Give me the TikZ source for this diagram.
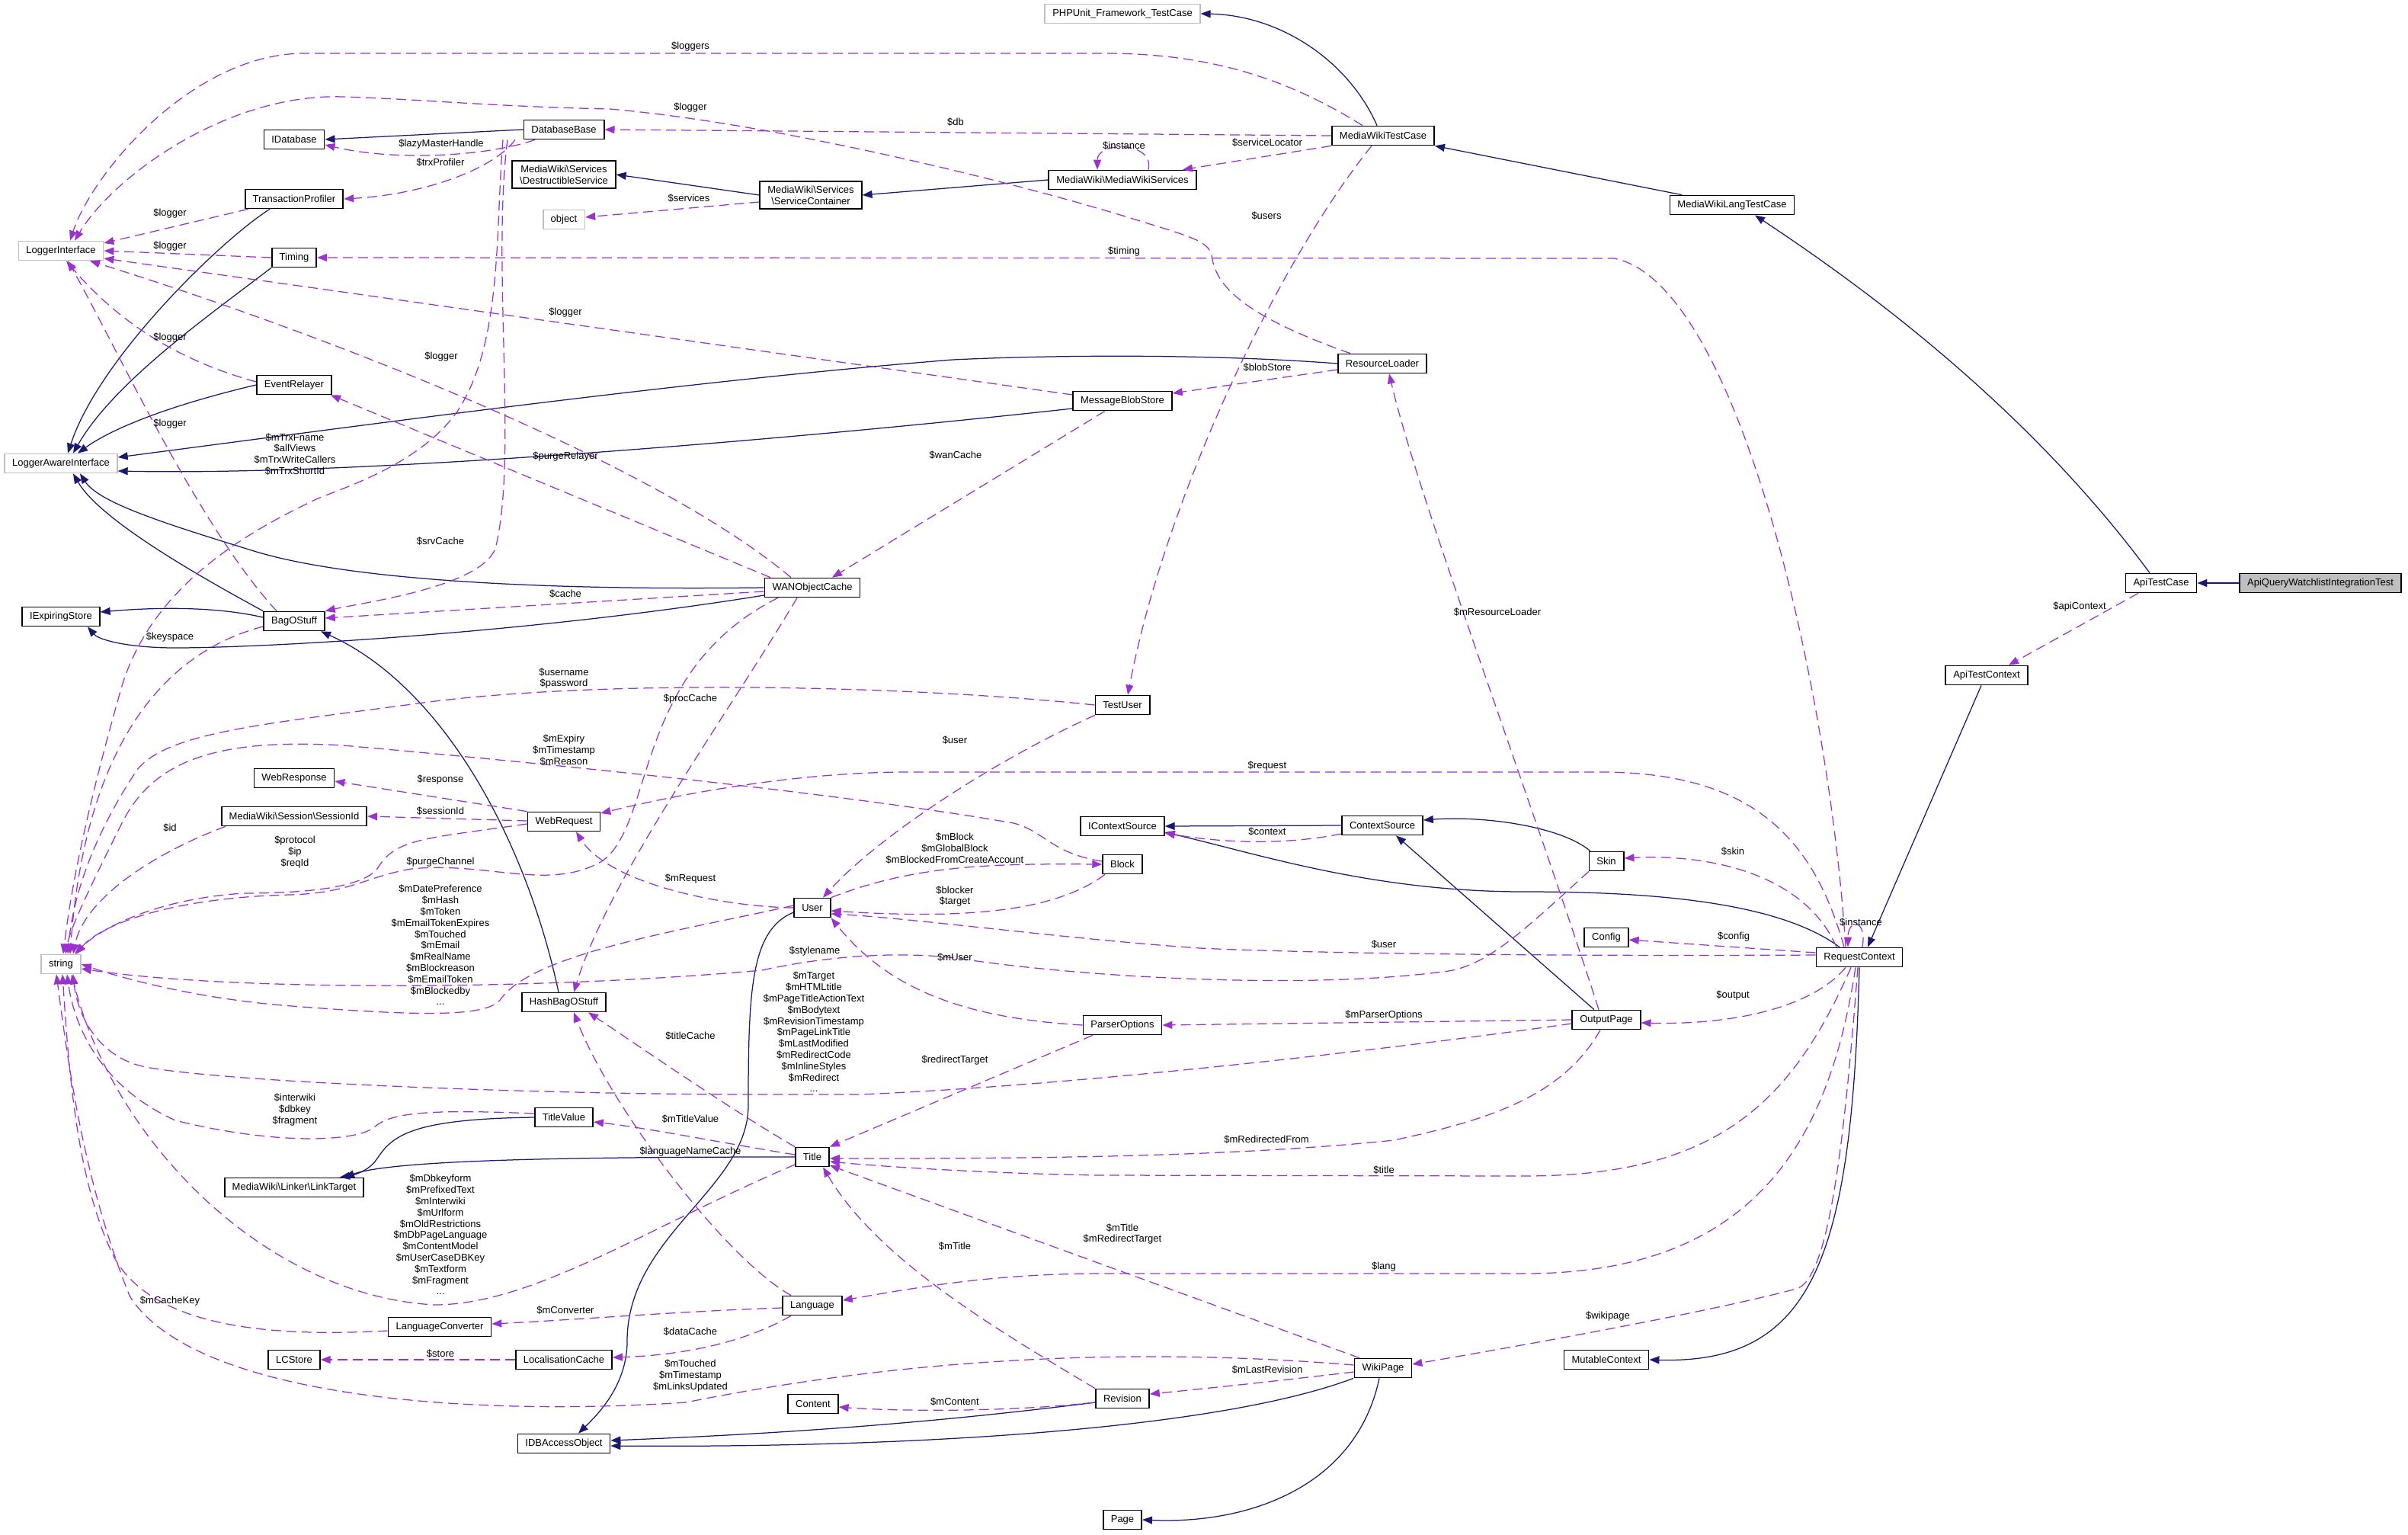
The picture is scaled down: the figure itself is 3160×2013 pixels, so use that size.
\documentclass[tikz,border=0pt]{standalone}
\usepackage{fontspec}
\setmainfont{Liberation Sans}
\usetikzlibrary{arrows.meta}
\definecolor{navy}{HTML}{191970}
\definecolor{orch}{HTML}{9A32CD}
\definecolor{gbord}{HTML}{BFBFBF}
\definecolor{gfill}{HTML}{BFBFBF}
\begin{document}
\begin{tikzpicture}[x=1pt,y=-1pt,font=\fontsize{13}{14.8}\selectfont,
  cls/.style={draw=black,line width=1.7pt,fill=white,minimum height=25pt,inner xsep=10pt,inner ysep=0pt,align=center},
  cls2/.style={cls,inner ysep=6pt},
  gcls/.style={cls,draw=gbord},
  lbl/.style={inner sep=0pt,align=center},
  inh/.style={draw=navy,line width=1.25pt,-{Triangle[length=13pt,width=10pt]},fill=none},
  use/.style={draw=orch,line width=1.25pt,dash pattern=on 13pt off 7pt,-{Triangle[length=13pt,width=10pt]},fill=none}]
\useasboundingbox (0,0) rectangle (3160,2013);
% nodes
\node[cls,fill=gfill] (aq) at (3045,765) {ApiQueryWatchlistIntegrationTest};
\node[cls] (atc) at (2836,765) {ApiTestCase};
\node[cls] (mwltc) at (2273,269) {MediaWikiLangTestCase};
\node[cls] (mwtc) at (1815,178) {MediaWikiTestCase};
\node[gcls] (phpu) at (1473,18) {PHPUnit\_Framework\_TestCase};
\node[gcls] (li) at (80,329) {LoggerInterface};
\node[cls] (dbb) at (740,170) {DatabaseBase};
\node[cls] (idb) at (386,183) {IDatabase};
\node[cls] (mws) at (1473,236) {MediaWiki\textbackslash MediaWikiServices};
\node[cls2] (sc) at (1064,256) {MediaWiki\textbackslash Services\\\textbackslash ServiceContainer};
\node[cls2] (ds) at (740,229) {MediaWiki\textbackslash Services\\\textbackslash DestructibleService};
\node[gcls] (obj) at (740,288) {object};
\node[cls] (tp) at (386,261) {TransactionProfiler};
\node[cls] (tim) at (386,338) {Timing};
\node[cls] (er) at (386,505) {EventRelayer};
\node[gcls] (lai) at (80,608) {LoggerAwareInterface};
\node[cls] (rl) at (1814,477) {ResourceLoader};
\node[cls] (mbs) at (1473,526) {MessageBlobStore};
\node[cls] (wan) at (1066,771) {WANObjectCache};
\node[cls] (ies) at (80,809) {IExpiringStore};
\node[cls] (bag) at (386,815) {BagOStuff};
\node[cls] (tu) at (1473,925) {TestUser};
\node[cls] (atx) at (2607,886) {ApiTestContext};
\node[cls] (wresp) at (386,1021) {WebResponse};
\node[cls] (sid) at (386,1071) {MediaWiki\textbackslash Session\textbackslash SessionId};
\node[cls] (wreq) at (740,1078) {WebRequest};
\node[cls] (ics) at (1473,1084) {IContextSource};
\node[cls] (cs) at (1814,1083) {ContextSource};
\node[cls] (skin) at (2108,1130) {Skin};
\node[cls] (blk) at (1473,1134) {Block};
\node[cls] (usr) at (1066,1191) {User};
\node[cls] (cfg) at (2108,1230) {Config};
\node[cls] (rc) at (2440,1256) {RequestContext};
\node[gcls] (str) at (80,1265) {string};
\node[cls] (hbag) at (740,1315) {HashBagOStuff};
\node[cls] (op) at (2108,1338) {OutputPage};
\node[cls] (po) at (1473,1345) {ParserOptions};
\node[cls] (tv) at (740,1466) {TitleValue};
\node[cls] (ttl) at (1066,1518) {Title};
\node[cls] (lt) at (386,1558) {MediaWiki\textbackslash Linker\textbackslash LinkTarget};
\node[cls] (lang) at (1066,1713) {Language};
\node[cls] (lconv) at (577,1741) {LanguageConverter};
\node[cls] (lcs) at (386,1784) {LCStore};
\node[cls] (lcache) at (740,1784) {LocalisationCache};
\node[cls] (mc) at (2108,1784) {MutableContext};
\node[cls] (wp) at (1815,1795) {WikiPage};
\node[cls] (rev) at (1473,1835) {Revision};
\node[cls] (cont) at (1067,1842) {Content};
\node[cls] (idbao) at (740,1894) {IDBAccessObject};
\node[cls] (page) at (1473,1994) {Page};
% inheritance
\draw[inh] (aq) -- (atc);
\draw[inh] ([xshift=-15pt]atc.north) .. controls (2650,520) and (2420,360) .. ([xshift=30pt]mwltc.south);
\draw[inh] ([xshift=-66pt]mwltc.north) -- (mwtc.south east);
\draw[inh] ([xshift=-8pt]mwtc.north) .. controls (1770,80) and (1680,20) .. (phpu.east);
\draw[inh] (dbb.west) -- (idb.east);
\draw[inh] (mws.west) -- (sc.east);
\draw[inh] (sc.west) -- (ds.east);
\draw[inh] ([xshift=-32pt]tp.south) .. controls (290,315) and (130,470) .. ([xshift=9pt]lai.north);
\draw[inh] (tim.south west) .. controls (280,410) and (150,500) .. ([xshift=16pt]lai.north);
\draw[inh] (er.west) .. controls (230,530) and (150,560) .. ([xshift=22pt]lai.north);
\draw[inh] (rl.west) .. controls (1600,465) and (1400,465) .. (1250,472) .. controls (900,500) and (500,555) .. ([yshift=8pt]lai.east);
\draw[inh] ([yshift=-10pt]mbs.west) .. controls (1100,570) and (500,625) .. ([yshift=-10pt]lai.east);
\draw[inh] (wan.west) .. controls (700,775) and (450,760) .. (330,722) .. controls (220,688) and (130,660) .. ([xshift=25pt]lai.south);
\draw[inh] ([yshift=-10pt]wan.west) .. controls (700,830) and (350,850) .. (230,850) .. controls (170,850) and (130,840) .. ([xshift=35pt]ies.south);
\draw[inh] ([yshift=5pt]bag.west) .. controls (280,795) and (200,797) .. ([yshift=6pt]ies.east);
\draw[inh] (bag.north west) .. controls (250,750) and (130,680) .. ([xshift=16pt]lai.south);
\draw[inh] ([xshift=-7pt]hbag.north) .. controls (690,1100) and (580,900) .. ([xshift=35pt]bag.south);
\draw[inh] ([yshift=-6pt]usr.west) .. controls (985,1220) and (982,1300) .. (982,1450) .. controls (982,1560) and (823,1620) .. (823,1760) .. controls (823,1820) and (780,1860) .. ([xshift=19pt]idbao.north);
\draw[inh] (tv.west) .. controls (540,1468) and (515,1490) .. (495,1520) .. controls (487,1533) and (470,1541) .. ([xshift=60pt]lt.north);
\draw[inh] (ttl.west) .. controls (800,1518) and (520,1520) .. ([xshift=66pt]lt.north);
\draw[inh] ([yshift=-5pt]rev.west) .. controls (1200,1870) and (1000,1882) .. ([yshift=4pt]idbao.east);
\draw[inh] ([xshift=-39pt]wp.south) .. controls (1600,1875) and (1200,1900) .. ([yshift=-3pt]idbao.east);
\draw[inh] ([xshift=-5pt]wp.south) .. controls (1780,1950) and (1640,2000) .. (page.east);
\draw[inh] (rc.south) .. controls (2430,1650) and (2380,1790) .. (mc.east);
\draw[inh] ([xshift=-26pt]rc.north) .. controls (2330,1180) and (2150,1170) .. (2000,1170) .. controls (1800,1170) and (1650,1120) .. ([yshift=-8pt]ics.east);
\draw[inh] ([xshift=-7pt]atx.south) -- ([xshift=11pt]rc.north);
\draw[inh] ([xshift=-21pt]skin.north) .. controls (2050,1085) and (1950,1070) .. ([yshift=7pt]cs.east);
\draw[inh] ([xshift=-16pt]op.north) -- ([xshift=18pt]cs.south);
\draw[inh] (cs.west) -- (ics.east);
% usage
\draw[use] ([xshift=-30pt]atc.south) -- ([xshift=29pt]atx.north);
\draw[use] ([xshift=-27pt]mwtc.north) .. controls (1700,110) and (1600,70) .. (1450,70) -- (400,70) .. controls (250,70) and (120,230) .. ([xshift=12pt]li.north);
\draw[use] (mwtc.west) -- (dbb.east);
\draw[use] (mwtc.south west) -- ([xshift=79pt]mws.north);
\draw[use] ([xshift=34pt]mws.north) .. controls (1515,185) and (1440,185) .. ([xshift=-33pt]mws.north);
\draw[use] ([xshift=-15pt]mwtc.south) .. controls (1680,340) and (1530,650) .. ([xshift=7pt]tu.north);
\draw[use] ([yshift=-9pt]sc.west) -- ([yshift=3pt]obj.east);
\draw[use] ([xshift=-38pt]dbb.south) .. controls (640,205) and (520,212) .. ([yshift=-7pt]idb.east);
\draw[use] ([xshift=-64pt]dbb.south) .. controls (650,220) and (560,255) .. (tp.east);
\draw[use] ([xshift=-42pt]rl.north) .. controls (1620,410) and (1595,370) .. (1590,335) .. controls (1585,315) and (1560,310) .. (1480,285) .. controls (1300,230) and (1000,160) .. (800,143) .. controls (650,140) and (550,130) .. (450,127) .. controls (300,122) and (150,230) .. ([xshift=18pt]li.north);
\draw[use] ([xshift=-80pt]dbb.south) .. controls (650,300) and (660,450) .. (600,540) .. controls (550,610) and (450,640) .. (415,655) .. controls (320,700) and (200,770) .. (160,900) .. controls (120,1040) and (95,1150) .. ([xshift=3pt]str.north);
\draw[use] ([xshift=-74pt]dbb.south) .. controls (645,350) and (680,600) .. (650,720) .. controls (630,770) and (480,790) .. (bag.north east);
\draw[use] ([xshift=-60pt]tp.south) -- ([yshift=10pt]li.east);
\draw[use] (tim.west) -- (li.east);
\draw[use] ([yshift=4pt]er.west) .. controls (260,480) and (170,440) .. ([xshift=7pt]li.south);
\draw[use] ([xshift=-23pt]bag.north) .. controls (260,690) and (150,450) .. ([xshift=9pt]li.south);
\draw[use] ([yshift=8pt]mbs.west) -- ([yshift=-10pt]li.east);
\draw[use] ([xshift=-28pt]wan.north) .. controls (850,600) and (400,430) .. ([xshift=38pt]li.south);
\draw[use] ([xshift=-55pt]wan.north) -- ([xshift=48pt]er.south);
\draw[use] ([xshift=-23pt]mbs.south) -- ([xshift=26pt]wan.north);
\draw[use] ([yshift=-8pt]rl.west) -- ([yshift=10pt]mbs.east);
\draw[use] ([xshift=-18pt]rc.north) .. controls (2400,900) and (2280,370) .. (2118,339) -- (tim.east);
\draw[use] ([yshift=-5pt]wan.west) -- ([yshift=4pt]bag.east);
\draw[use] ([xshift=-20pt]wan.south) .. controls (960,930) and (800,1150) .. ([xshift=13pt]hbag.north);
\draw[use] ([xshift=-45pt]wan.south) .. controls (830,880) and (860,1080) .. (790,1130) .. controls (720,1170) and (640,1130) .. (540,1140) .. controls (480,1150) and (460,1172) .. (380,1174) .. controls (220,1178) and (130,1215) .. ([xshift=20pt]str.north);
\draw[use] (tu.west) .. controls (1200,900) and (800,890) .. (555,922) .. controls (350,950) and (220,960) .. (180,1010) .. controls (120,1100) and (95,1180) .. ([xshift=9pt]str.north);
\draw[use] ([xshift=-36pt]tu.south) .. controls (1300,1000) and (1150,1100) .. ([xshift=14pt]usr.north);
\draw[use] ([xshift=-20pt]rc.north) .. controls (2380,1100) and (2300,1013) .. (2100,1013) -- (1191,1013) .. controls (1050,1013) and (900,1040) .. ([yshift=11pt]wreq.east);
\draw[use] ([yshift=4pt]blk.west) .. controls (1380,1120) and (1370,1090) .. (1330,1080) .. controls (1100,1040) and (700,1000) .. (450,978) .. controls (280,968) and (200,1000) .. (160,1080) .. controls (110,1180) and (92,1220) .. ([xshift=6pt]str.north);
\draw[use] (usr.north east) .. controls (1200,1135) and (1300,1133) .. (blk.west);
\draw[use] ([xshift=-23pt]blk.south) .. controls (1380,1200) and (1250,1205) .. ([yshift=-4pt]usr.east);
\draw[use] (wreq.north west) -- ([yshift=-4pt]wresp.east);
\draw[use] ([yshift=1pt]wreq.west) -- (sid.east);
\draw[use] ([xshift=-90pt]sid.south) .. controls (200,1120) and (110,1180) .. ([xshift=16pt]str.north);
\draw[use] ([yshift=-3pt]wreq.west) .. controls (560,1100) and (520,1100) .. (497,1137) .. controls (480,1165) and (400,1172) .. (319,1172) .. controls (200,1180) and (130,1220) .. ([xshift=18pt]str.north);
\draw[use] ([yshift=3pt]usr.west) .. controls (900,1220) and (700,1250) .. (657,1311) .. controls (640,1335) and (550,1333) .. (383,1320) .. controls (250,1310) and (150,1280) .. (str.east);
\draw[use] (usr.west) .. controls (950,1190) and (800,1160) .. ([xshift=16pt]wreq.south);
\draw[use] ([yshift=3pt]rc.west) .. controls (2000,1255) and (1700,1250) .. (1574,1244) .. controls (1400,1232) and (1200,1205) .. ([yshift=-8pt]usr.east);
\draw[use] ([xshift=-23pt]skin.south) .. controls (2000,1220) and (1950,1270) .. (1893,1275) .. controls (1700,1300) and (1400,1280) .. (1255,1257) .. controls (1150,1245) and (1050,1262) .. (1000,1273) .. controls (700,1300) and (300,1300) .. ([yshift=-6pt]str.east);
\draw[use] (po.west) .. controls (1250,1335) and (1160,1290) .. (usr.south east);
\draw[use] ([yshift=-5pt]op.west) .. controls (1800,1380) and (1400,1425) .. (1128,1436) -- (1000,1436) .. controls (700,1436) and (300,1420) .. (191,1400) .. controls (120,1385) and (100,1320) .. ([xshift=16pt]str.south);
\draw[use] (op.west) -- (po.east);
\draw[use] ([xshift=-8pt]op.south) .. controls (2050,1440) and (1950,1470) .. (1829,1496) .. controls (1600,1520) and (1300,1520) .. ([yshift=-2pt]ttl.east);
\draw[use] ([xshift=-11pt]rc.south) .. controls (2350,1450) and (2250,1543) .. (2000,1543) -- (1446,1542) .. controls (1300,1540) and (1150,1530) .. ([yshift=-6pt]ttl.east);
\draw[use] ([xshift=-18pt]rc.south) .. controls (2380,1320) and (2280,1345) .. ([yshift=-4pt]op.east);
\draw[use] ([yshift=6pt]rc.west) -- ([yshift=-3pt]cfg.east);
\draw[use] ([xshift=-30pt]rc.north) .. controls (2370,1150) and (2250,1120) .. ([yshift=4pt]skin.east);
\draw[use] ([xshift=4pt]rc.north) .. controls (2450,1205) and (2425,1205) .. ([xshift=-15pt]rc.north);
\draw[use] ([xshift=-10pt]op.north) .. controls (2010,1050) and (1860,650) .. ([xshift=9pt]rl.south);
\draw[use] ([xshift=-39pt]po.south) -- (ttl.north east);
\draw[use] ([xshift=-31pt]wp.north) -- ([yshift=-11pt]ttl.east);
\draw[use] ([xshift=-36pt]rev.north) .. controls (1300,1740) and (1150,1650) .. ([xshift=14pt]ttl.south);
\draw[use] ([xshift=-5pt]rc.south) .. controls (2400,1500) and (2300,1671) .. (2000,1671) -- (1446,1671) .. controls (1300,1671) and (1200,1690) .. ([yshift=7pt]lang.east);
\draw[use] ([xshift=-2pt]rc.south) .. controls (2420,1500) and (2400,1680) .. (2357,1691) .. controls (2250,1720) and (2000,1765) .. ([yshift=5pt]wp.east);
\draw[use] ([yshift=-3pt]lang.west) .. controls (900,1720) and (750,1732) .. ([yshift=4pt]lconv.east);
\draw[use] ([xshift=-28pt]lang.south) .. controls (980,1760) and (900,1778) .. ([yshift=3pt]lcache.east);
\draw[use] (lcache.west) -- (lcs.east);
\draw[use] ([xshift=-28pt]lang.north) .. controls (950,1650) and (800,1450) .. ([xshift=13pt]hbag.south);
\draw[use] ([xshift=-23pt]ttl.north) .. controls (950,1450) and (850,1380) .. ([xshift=32pt]hbag.south);
\draw[use] ([yshift=3pt]ttl.west) .. controls (950,1500) and (850,1480) .. ([yshift=-6pt]tv.east);
\draw[use] ([yshift=-10pt]ttl.west) .. controls (850,1610) and (700,1712) .. (570,1712) .. controls (350,1700) and (150,1500) .. ([xshift=14pt]str.south);
\draw[use] ([yshift=5pt]tv.west) .. controls (560,1455) and (510,1460) .. (490,1480) .. controls (460,1500) and (350,1500) .. (230,1470) .. controls (120,1420) and (95,1330) .. ([xshift=8pt]str.south);
\draw[use] ([yshift=-5pt]lconv.west) .. controls (350,1755) and (200,1740) .. (150,1650) .. controls (100,1550) and (90,1400) .. ([xshift=2pt]str.south);
\draw[use] ([yshift=4pt]wp.west) .. controls (1400,1760) and (1100,1800) .. (900,1840) .. controls (600,1860) and (250,1830) .. (170,1700) .. controls (110,1550) and (90,1400) .. ([xshift=-6pt]str.south);
\draw[use] ([yshift=-5pt]rev.west) .. controls (1300,1855) and (1150,1850) .. ([yshift=-4pt]cont.east);
\draw[use] ([yshift=-5pt]wp.west) .. controls (1650,1815) and (1550,1825) .. ([yshift=6pt]rev.east);
\draw[use] ([yshift=-7pt]bag.west) .. controls (200,860) and (110,1000) .. ([xshift=12pt]str.north);
\draw[use] ([yshift=-11pt]cs.west) .. controls (1680,1110) and (1600,1105) .. ([yshift=-9pt]ics.east);
% labels
\node[lbl] (l1) at (2729,796) {\$apiContext};
\node[lbl] (l2) at (906,61) {\$loggers};
\node[lbl] (l3) at (1254,160) {\$db};
\node[lbl] (l4) at (1663,187) {\$serviceLocator};
\node[lbl] (l5) at (1475,191) {\$instance};
\node[lbl] (l6) at (1662,283) {\$users};
\node[lbl] (l7) at (904,260) {\$services};
\node[lbl] (l8) at (579,189) {\$lazyMasterHandle};
\node[lbl] (l9) at (578,213) {\$trxProfiler};
\node[lbl] (l10) at (906,141) {\$logger};
\node[lbl] (l11) at (223,280) {\$logger};
\node[lbl] (l12) at (223,323) {\$logger};
\node[lbl] (l13) at (223,443) {\$logger};
\node[lbl] (l14) at (223,556) {\$logger};
\node[lbl] (l15) at (742,410) {\$logger};
\node[lbl] (l16) at (579,468) {\$logger};
\node[lbl] (l17) at (742,599) {\$purgeRelayer};
\node[lbl] (l18) at (387,596) {\$mTrxFname\\\$allViews\\\$mTrxWriteCallers\\\$mTrxShortId};
\node[lbl] (l19) at (1254,597) {\$wanCache};
\node[lbl] (l20) at (1663,482) {\$blobStore};
\node[lbl] (l21) at (1475,330) {\$timing};
\node[lbl] (l22) at (578,710) {\$srvCache};
\node[lbl] (l23) at (742,779) {\$cache};
\node[lbl] (l24) at (223,836) {\$keyspace};
\node[lbl] (l25) at (906,917) {\$procCache};
\node[lbl] (l26) at (740,890) {\$username\\\$password};
\node[lbl] (l27) at (740,984) {\$mExpiry\\\$mTimestamp\\\$mReason};
\node[lbl] (l28) at (578,1023) {\$response};
\node[lbl] (l29) at (578,1064) {\$sessionId};
\node[lbl] (l30) at (223,1086) {\$id};
\node[lbl] (l31) at (387,1118) {\$protocol\\\$ip\\\$reqId};
\node[lbl] (l32) at (578,1131) {\$purgeChannel};
\node[lbl] (l33) at (578,1240) {\$mDatePreference\\\$mHash\\\$mToken\\\$mEmailTokenExpires\\\$mTouched\\\$mEmail\\\$mRealName\\\$mBlockreason\\\$mEmailToken\\\$mBlockedby\\...};
\node[lbl] (l34) at (906,1153) {\$mRequest};
\node[lbl] (l35) at (1253,971) {\$user};
\node[lbl] (l36) at (1663,1005) {\$request};
\node[lbl] (l37) at (1253,1113) {\$mBlock\\\$mGlobalBlock\\\$mBlockedFromCreateAccount};
\node[lbl] (l38) at (1253,1176) {\$blocker\\\$target};
\node[lbl] (l39) at (1663,1091) {\$context};
\node[lbl] (l40) at (1965,803) {\$mResourceLoader};
\node[lbl] (l41) at (2274,1117) {\$skin};
\node[lbl] (l42) at (2275,1229) {\$config};
\node[lbl] (l43) at (2442,1210) {\$instance};
\node[lbl] (l44) at (1816,1239) {\$user};
\node[lbl] (l45) at (1069,1248) {\$stylename};
\node[lbl] (l46) at (1253,1256) {\$mUser};
\node[lbl] (l47) at (1068,1354) {\$mTarget\\\$mHTMLtitle\\\$mPageTitleActionText\\\$mBodytext\\\$mRevisionTimestamp\\\$mPageLinkTitle\\\$mLastModified\\\$mRedirectCode\\\$mInlineStyles\\\$mRedirect\\...};
\node[lbl] (l48) at (2274,1306) {\$output};
\node[lbl] (l49) at (1816,1332) {\$mParserOptions};
\node[lbl] (l50) at (1253,1391) {\$redirectTarget};
\node[lbl] (l51) at (1662,1495) {\$mRedirectedFrom};
\node[lbl] (l52) at (1816,1535) {\$title};
\node[lbl] (l53) at (906,1359) {\$titleCache};
\node[lbl] (l54) at (387,1456) {\$interwiki\\\$dbkey\\\$fragment};
\node[lbl] (l55) at (906,1468) {\$mTitleValue};
\node[lbl] (l56) at (906,1511) {\$languageNameCache};
\node[lbl] (l57) at (578,1620) {\$mDbkeyform\\\$mPrefixedText\\\$mInterwiki\\\$mUrlform\\\$mOldRestrictions\\\$mDbPageLanguage\\\$mContentModel\\\$mUserCaseDBKey\\\$mTextform\\\$mFragment\\...};
\node[lbl] (l58) at (1473,1619) {\$mTitle\\\$mRedirectTarget};
\node[lbl] (l59) at (1253,1635) {\$mTitle};
\node[lbl] (l60) at (1816,1662) {\$lang};
\node[lbl] (l61) at (223,1707) {\$mCacheKey};
\node[lbl] (l62) at (742,1719) {\$mConverter};
\node[lbl] (l63) at (2110,1727) {\$wikipage};
\node[lbl] (l64) at (906,1747) {\$dataCache};
\node[lbl] (l65) at (578,1776) {\$store};
\node[lbl] (l66) at (906,1805) {\$mTouched\\\$mTimestamp\\\$mLinksUpdated};
\node[lbl] (l67) at (1663,1797) {\$mLastRevision};
\node[lbl] (l68) at (1253,1839) {\$mContent};
\end{tikzpicture}
\end{document}
